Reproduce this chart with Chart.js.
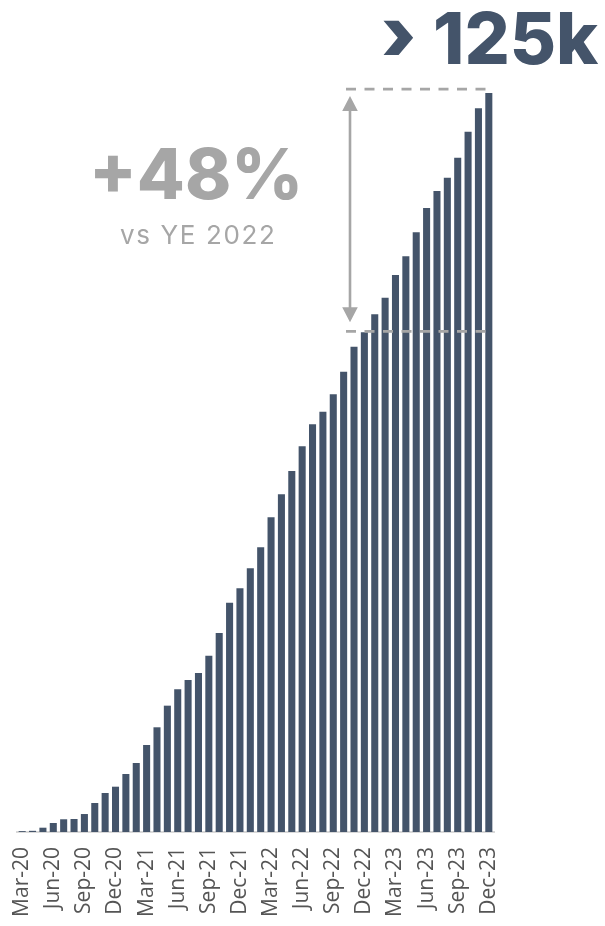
<!DOCTYPE html>
<html>
<head>
<meta charset="utf-8">
<script src="https://cdn.jsdelivr.net/npm/chart.js@4/dist/chart.umd.min.js"></script>
<style>
  html, body { margin: 0; padding: 0; background: #ffffff; }
  #wrap { width: 605px; height: 926px; position: relative; }
</style>
</head>
<body>
<div id="wrap"><canvas id="chart"></canvas></div>
<script>
// Month-end labels, Mar-20 .. Dec-23
const months = [
  'Mar-20','Apr-20','May-20','Jun-20','Jul-20','Aug-20','Sep-20','Oct-20','Nov-20','Dec-20',
  'Jan-21','Feb-21','Mar-21','Apr-21','May-21','Jun-21','Jul-21','Aug-21','Sep-21','Oct-21','Nov-21','Dec-21',
  'Jan-22','Feb-22','Mar-22','Apr-22','May-22','Jun-22','Jul-22','Aug-22','Sep-22','Oct-22','Nov-22','Dec-22',
  'Jan-23','Feb-23','Mar-23','Apr-23','May-23','Jun-23','Jul-23','Aug-23','Sep-23','Oct-23','Nov-23','Dec-23'
];

// Cumulative total, thousands
const totals = [
  0.15, 0.2, 0.73, 1.53, 2.16, 2.21, 3.05, 4.92, 6.62, 7.69,
  9.84, 11.71, 14.77, 17.77, 21.44, 24.22, 25.80, 26.99, 29.92, 33.77, 38.92, 41.36,
  44.76, 48.32, 53.41, 57.31, 61.27, 65.46, 69.19, 71.33, 74.29, 78.13, 82.37, 84.8,
  87.86, 90.68, 94.53, 97.71, 101.78, 105.91, 108.79, 111.05, 114.44, 118.86, 122.83, 125.4
];

// Every third month gets a label on the axis
const labelStep = 3;

const barColor = '#44546A';
const noteGrey = '#A6A6A6';

const lastIdx = totals.length - 1;
const prevYE = months.indexOf('Dec-22');
const growthPct = Math.round((totals[lastIdx] / totals[prevYE] - 1) * 100);
const headline = Math.floor(totals[lastIdx]) + 'k';

// Fit a string into a box by its ink width; ink bottom sits on y1
function fitText(ctx, text, weight, family, x0, x1, y1, color) {
  ctx.font = weight + ' 100px ' + family;
  let m = ctx.measureText(text);
  const inkW = m.actualBoundingBoxLeft + m.actualBoundingBoxRight;
  const size = 100 * (x1 - x0) / inkW;
  ctx.font = weight + ' ' + size + 'px ' + family;
  m = ctx.measureText(text);
  ctx.fillStyle = color;
  ctx.textAlign = 'left';
  ctx.textBaseline = 'alphabetic';
  ctx.fillText(text, x0 + m.actualBoundingBoxLeft, y1 - m.actualBoundingBoxDescent);
}

// Fit a glyph into a box by its ink height
function fitGlyphH(ctx, text, weight, family, x0, y0, y1, color) {
  ctx.font = weight + ' 100px ' + family;
  let m = ctx.measureText(text);
  const inkH = m.actualBoundingBoxAscent + m.actualBoundingBoxDescent;
  const size = 100 * (y1 - y0) / inkH;
  ctx.font = weight + ' ' + size + 'px ' + family;
  m = ctx.measureText(text);
  ctx.fillStyle = color;
  ctx.textAlign = 'left';
  ctx.textBaseline = 'alphabetic';
  ctx.fillText(text, x0 + m.actualBoundingBoxLeft, y1 - m.actualBoundingBoxDescent);
}

// Spread a line of text to a given ink width using letter spacing
function spreadText(ctx, text, font, x0, x1, baseline, color) {
  ctx.font = font;
  ctx.letterSpacing = '0px';
  const m = ctx.measureText(text);
  const inkW = m.actualBoundingBoxLeft + m.actualBoundingBoxRight;
  const gap = (x1 - x0 - inkW) / (text.length - 1);
  ctx.letterSpacing = gap + 'px';
  ctx.fillStyle = color;
  ctx.textAlign = 'left';
  ctx.textBaseline = 'alphabetic';
  ctx.fillText(text, x0 + m.actualBoundingBoxLeft, baseline);
  ctx.letterSpacing = '0px';
}

const notes = {
  id: 'notes',
  afterDatasetsDraw(chart) {
    const ctx = chart.ctx;
    const xs = chart.scales.x;
    const ys = chart.scales.y;
    const yTop = ys.getPixelForValue(totals[lastIdx]) - 4;
    const yLow = ys.getPixelForValue(totals[prevYE]) - 1;
    const xStart = 346;
    const xEnd = xs.getPixelForValue(lastIdx) - 2;

    ctx.save();
    // dashed reference lines
    ctx.strokeStyle = noteGrey;
    ctx.lineWidth = 2.6;
    ctx.setLineDash([10, 8.5]);
    ctx.beginPath();
    ctx.moveTo(xStart, yTop); ctx.lineTo(xEnd, yTop);
    ctx.moveTo(xStart, yLow); ctx.lineTo(xEnd, yLow);
    ctx.stroke();

    // double-headed arrow between them
    const ax = 350;
    const head = 15, half = 7.8;
    const a1 = yTop + 7, a2 = yLow - 9;
    ctx.setLineDash([]);
    ctx.beginPath();
    ctx.moveTo(ax, a1 + head - 2); ctx.lineTo(ax, a2 - head + 2);
    ctx.stroke();
    ctx.fillStyle = noteGrey;
    ctx.beginPath();
    ctx.moveTo(ax, a1); ctx.lineTo(ax - half, a1 + head); ctx.lineTo(ax + half, a1 + head); ctx.closePath();
    ctx.moveTo(ax, a2); ctx.lineTo(ax - half, a2 - head); ctx.lineTo(ax + half, a2 - head); ctx.closePath();
    ctx.fill();

    // headline figure
    fitGlyphH(ctx, '\u203A', '900', 'Inter', 383, 20, 55, barColor);
    fitText(ctx, headline, '800', 'Inter', 436, 599, 65, barColor);

    // growth vs prior year end
    fitText(ctx, '+' + growthPct + '%', '800', 'Inter', 95, 298, 200, noteGrey);
    spreadText(ctx, 'vs YE 2022', '400 26px Inter', 120, 273, 244, noteGrey);
    ctx.restore();
  }
};

new Chart(document.getElementById('chart'), {
  type: 'bar',
  data: {
    labels: months,
    datasets: [{
      data: totals,
      backgroundColor: barColor,
      borderWidth: 0,
      barPercentage: 0.68,
      categoryPercentage: 1.0
    }]
  },
  options: {
    responsive: true,
    maintainAspectRatio: false,
    animation: false,
    events: [],
    layout: { padding: { top: 66, left: 17, right: 111, bottom: 0 } },
    plugins: { legend: { display: false }, tooltip: { enabled: false } },
    scales: {
      x: {
        grid: { display: false, drawTicks: false },
        border: { display: true, color: '#D9D9D9', width: 2 },
        afterFit(scale) { scale.height = 94; },
        ticks: {
          autoSkip: false,
          minRotation: 90,
          maxRotation: 90,
          padding: 15,
          color: '#555555',
          font: { family: 'Open Sans', size: 21 },
          callback(value, index) {
            return index % labelStep === 0 ? months[index] : '';
          }
        }
      },
      y: {
        display: false,
        min: 0,
        max: 130
      }
    }
  },
  plugins: [notes]
});
</script>
</body>
</html>
